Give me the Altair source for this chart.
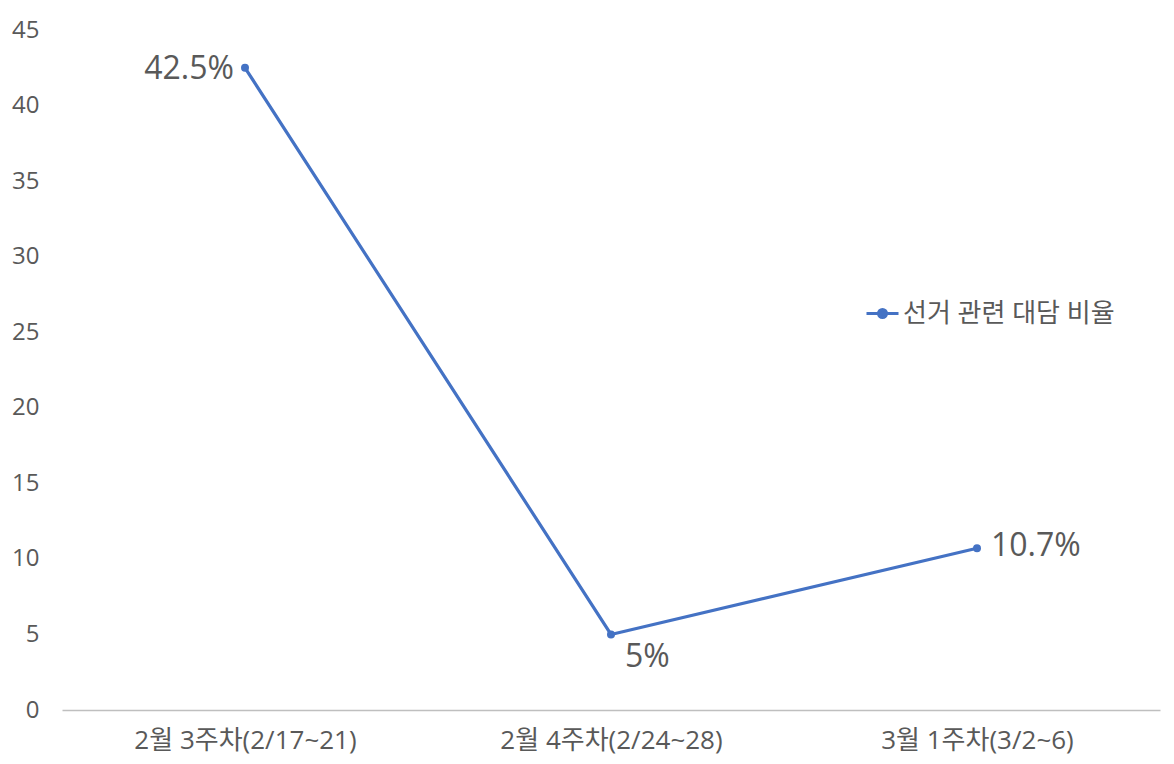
import altair as alt
import pandas as pd

categories = ["2월 3주차(2/17~21)", "2월 4주차(2/24~28)", "3월 1주차(3/2~6)"]
values = [42.5, 5, 10.7]
labels = ["42.5%", "5%", "10.7%"]
series = "선거 관련 대담 비율"

df = pd.DataFrame({"cat": categories, "val": values, "label": labels, "series": [series] * 3})

FONT = "'Open Sans', 'Noto Sans CJK KR'"
BLUE = "#4472C4"
GRAY = "#595959"

x = alt.X("cat:N", sort=categories, title=None,
          scale=alt.Scale(paddingInner=0, paddingOuter=0.5),
          axis=alt.Axis(labelAngle=0, labelFontSize=26, labelColor=GRAY, labelFont=FONT,
                        labelLimit=0, ticks=False, domainColor="#BFBFBF", domainWidth=1.5,
                        labelPadding=17, grid=False))
y = alt.Y("val:Q", title=None,
          scale=alt.Scale(domain=[0, 45], nice=False),
          axis=alt.Axis(values=list(range(0, 46, 5)), labelFontSize=24, labelColor=GRAY,
                        labelFont=FONT, ticks=False, domain=False, grid=False, labelPadding=23))

legend_symbol = "M-1,0L1,0M-0.25,0A0.25,0.25,0,1,1,0.25,0A0.25,0.25,0,1,1,-0.25,0Z"
color = alt.Color("series:N", scale=alt.Scale(range=[BLUE]), title=None,
                  legend=alt.Legend(orient="none", legendX=803, legendY=266,
                                    symbolType=legend_symbol, symbolStrokeWidth=3,
                                    symbolSize=1024, symbolFillColor=BLUE,
                                    symbolStrokeColor=BLUE,
                                    labelFontSize=26, labelColor=GRAY, labelFont=FONT,
                                    labelLimit=0, symbolOffset=0, labelOffset=3))

base = alt.Chart(df)
line = base.mark_line(strokeWidth=3.2).encode(x=x, y=y, color=color)
pts = base.mark_point(filled=True, size=64, opacity=1, color=BLUE).encode(x=x, y=y)

t1 = base.transform_filter(alt.datum.cat == categories[0]).mark_text(
    align="right", baseline="middle", dx=-11, dy=1, fontSize=32, font=FONT, color=GRAY
).encode(x=x, y=y, text="label:N")
t2 = base.transform_filter(alt.datum.cat == categories[1]).mark_text(
    align="left", baseline="middle", dx=14, dy=23, fontSize=32, font=FONT, color=GRAY
).encode(x=x, y=y, text="label:N")
t3 = base.transform_filter(alt.datum.cat == categories[2]).mark_text(
    align="left", baseline="middle", dx=14, dy=-2, fontSize=32, font=FONT, color=GRAY
).encode(x=x, y=y, text="label:N")

chart = alt.layer(line, pts, t1, t2, t3).properties(
    width=1098, height=680,
    autosize=alt.AutoSizeParams(type="none"),
    padding={"left": 54, "top": 22, "right": 6, "bottom": 46},
).configure_view(stroke=None)

chart.save("out.html", embed_options={"renderer": "svg", "actions": False})
